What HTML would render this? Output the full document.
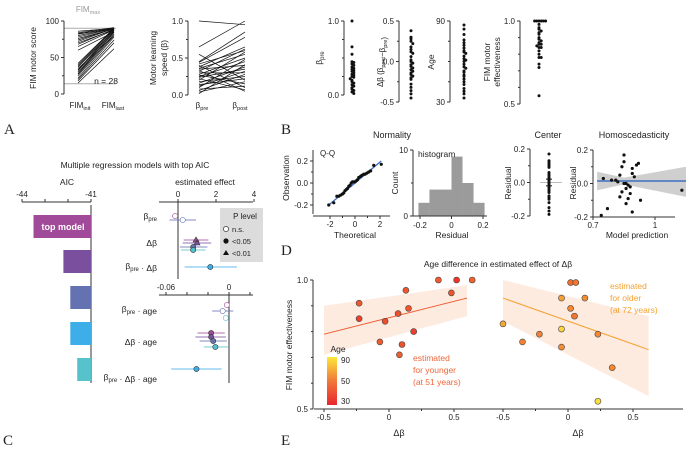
<!DOCTYPE html>
<html><head><meta charset="utf-8">
<style>
html,body{margin:0;padding:0;background:#fff;}
svg{display:block;font-family:"Liberation Sans","DejaVu Sans",sans-serif;}
text{fill:#222;}
</style></head>
<body>
<svg id="fig" width="693" height="451" viewBox="0 0 693 451" xmlns="http://www.w3.org/2000/svg">
<rect x="0" y="0" width="693" height="451" fill="#fff"/>
<g id="labels" font-family="Liberation Serif,serif" font-size="15">
<text x="4" y="134">A</text>
<text x="281" y="134">B</text>
<text x="3" y="445">C</text>
<text x="281" y="255">D</text>
<text x="281" y="445">E</text>
</g>
<g id="g"></g>
</svg>
<script>
// ---------- Panel A data ----------
const fimInit=[15,18,20,22,25,27,28,30,32,33,35,37,38,40,42,60,65,68,70,72,74,76,78,80,82,83,84,86];
const fimLast=[62,70,74,78,80,82,85,84,86,88,80,87,89,90,90,85,88,89,88,90,90,89,90,90,90,90,91,90];
const betaPre=[1.0,0.65,0.55,0.45,0.44,0.42,0.40,0.38,0.36,0.35,0.33,0.32,0.30,0.28,0.27,0.25,0.24,0.22,0.20,0.18,0.16,0.14,0.12,0.10,0.08,0.06,0.04,0.02];
const betaPost=[0.95,1.0,0.20,0.85,0.78,0.60,0.10,0.65,0.55,0.40,0.05,0.62,0.30,0.50,0.15,0.45,0.35,0.07,0.58,0.25,0.38,0.22,0.32,0.48,0.12,0.28,0.18,0.41];
const deltaBeta=[0.38,0.30,0.25,0.22,0.18,0.15,0.12,0.10,0.06,0.02,0.0,-0.02,-0.04,-0.06,-0.08,-0.10,-0.12,-0.14,-0.16,-0.18,-0.20,-0.22,-0.28,-0.32,-0.36,-0.40,-0.45,0.28];
const ageVals=[87,84,80,76,74,72,70,68,67,66,64,62,61,60,58,56,55,53,52,50,49,47,45,43,40,38,36,33];
const fimEff=[1.0,1.0,1.0,1.0,1.0,1.0,0.98,0.96,0.95,0.94,0.93,0.92,0.90,0.89,0.88,0.87,0.86,0.86,0.85,0.84,0.84,0.82,0.80,0.78,0.78,0.74,0.72,0.55];
// ---------- Panel B data ----------
const qqTheo=[-2.1,-1.7,-1.45,-1.3,-1.15,-1.0,-0.9,-0.8,-0.7,-0.6,-0.5,-0.4,-0.3,-0.2,-0.1,0,0.1,0.2,0.3,0.45,0.55,0.7,0.8,0.95,1.1,1.25,1.5,2.1];
const qqObs=[-0.20,-0.18,-0.12,-0.12,-0.11,-0.10,-0.09,-0.07,-0.06,-0.05,-0.03,-0.02,0.0,0.01,0.01,0.01,0.02,0.03,0.05,0.06,0.07,0.08,0.08,0.09,0.10,0.11,0.16,0.17];
const histCounts=[2,4,4,9,5,2];
const histEdges=[-0.21,-0.14,-0.07,0.0,0.07,0.14,0.21];
const resid=[0.17,0.13,0.10,0.09,0.06,0.05,0.04,0.03,0.02,0.02,0.01,0.0,0.0,-0.01,-0.02,-0.03,-0.05,-0.06,-0.08,-0.09,-0.10,-0.12,-0.15,-0.17,-0.19,0.11,-0.04,0.12];
const pred=[0.85,0.85,0.84,0.89,0.89,0.83,0.90,0.75,0.79,0.81,0.82,0.85,0.86,0.87,0.88,0.86,0.84,0.88,0.83,0.87,0.93,0.86,0.77,0.89,0.74,0.91,1.13,0.92];
// ---------- Panel C data ----------
const aicVals=[-43.5,-42.2,-41.9,-41.9,-41.6];
const aicColors=["#a24a9a","#7a4f9e","#6472b2","#3daee8","#55c2cc"];
const effEst=[-0.15,0.25,0.95,1.0,0.8,0.8,1.7];
const effLo=[-0.3,-0.45,0.3,0.25,0.1,0.15,0.35];
const effHi=[0.0,0.95,1.6,1.75,1.55,1.45,3.1];
const effModel=[0,2,0,1,2,4,3];
const effSig=[0,0,2,2,1,1,1];
const ageEst=[-0.002,-0.006,-0.003,-0.017,-0.017,-0.015,-0.013,-0.031];
const ageLo=[-0.003,-0.016,-0.005,-0.030,-0.032,-0.028,-0.024,-0.055];
const ageHi=[-0.001,0.004,-0.001,-0.004,-0.003,-0.002,-0.001,-0.007];
const ageModel=[0,2,4,0,1,2,4,3];
// ---------- Panel E data ----------
const youngX=[-0.23,-0.23,-0.03,-0.07,0.08,0.10,0.07,0.13,0.15,0.19,0.38,0.48,0.52,0.64];
const youngY=[0.91,0.85,0.84,0.76,0.71,0.75,0.87,0.96,0.89,0.80,1.0,0.95,1.0,1.0];
const youngAge=[45,38,42,46,47,43,42,44,44,38,46,44,34,48];
const oldX=[-0.5,-0.35,-0.22,-0.05,-0.05,-0.05,0.02,0.02,0.06,0.05,0.13,0.23,0.34,0.23];
const oldY=[0.83,0.76,0.79,0.81,0.93,0.74,0.89,0.99,0.99,0.86,0.93,0.79,0.66,0.53];
const oldAge=[70,58,58,85,68,62,60,52,55,55,62,60,60,88];
const youngLine=[-0.5,0.79,0.6,0.93];
const oldLine=[-0.5,0.93,0.62,0.73];

const NS="http://www.w3.org/2000/svg";
const G=document.getElementById('g');
function el(tag,attrs,parent,txt){const e=document.createElementNS(NS,tag);for(const k in attrs)e.setAttribute(k,attrs[k]);if(txt!==undefined)e.textContent=txt;(parent||G).appendChild(e);return e;}
function lin(d0,d1,p0,p1){return v=>p0+(v-d0)*(p1-p0)/(d1-d0);}
function T(x,y,s,opt,par){opt=opt||{};const a={x:x,y:y,'font-size':opt.fs||8,'text-anchor':opt.a||'middle'};if(opt.rot)a.transform='rotate(-90 '+x+' '+y+')';if(opt.fill)a.style='fill:'+opt.fill;const t=el('text',a,par);
 const parts=s.split(/(_\{[^}]*\})/);parts.forEach(p=>{if(p.startsWith('_{')){el('tspan',{'font-size':(opt.fs||8)*0.7,dy:2},t,p.slice(2,-1));el('tspan',{dy:-2},t,'');}else if(p)el('tspan',{},t,p);});return t;}
function L(x1,y1,x2,y2,c,w,par){return el('line',{x1:x1,y1:y1,x2:x2,y2:y2,stroke:c||'#333','stroke-width':w||1},par);}
function yaxis(x,y0,y1,ticks,fy,labels,par,minor){L(x,y0,x,y1,'#333',1,par);ticks.forEach((t,i)=>{const y=fy(t);L(x-3,y,x,y,'#333',1,par);if(labels[i]!=='')T(x-5,y+3,labels[i],{a:'end'},par);});(minor||[]).forEach(t=>L(x-2,fy(t),x,fy(t),'#333',1,par));}
function xaxis(y,x0,x1,ticks,fx,labels,par,up){L(x0,y,x1,y,'#333',1,par);ticks.forEach((t,i)=>{const x=fx(t);L(x,y,x,y+(up?-3:3),'#333',1,par);if(labels[i]!=='')T(x,up?y-5:y+11,labels[i],{},par);});}
function dot(cx,cy,r,fill,par,stroke){return el('circle',{cx:cx,cy:cy,r:r,fill:fill,stroke:stroke||'none','stroke-width':0.6},par);}
function swarm(vals,x0,fy,par,step){const seen={};vals.forEach(v=>{const k=Math.round(fy(v)/2.5);seen[k]=(seen[k]||0)+1;const n=seen[k]-1;const off=n===0?0:(n%2?1:-1)*Math.ceil(n/2)*step;const d=dot(x0+off,fy(v),1.5,'#111',par);});}

// ===== Panel A =====
const pA=el('g',{},G);
let fy=lin(0,100,94,21);
L(64,fy(90),116,fy(90),'#aaa',1,pA);L(64,fy(14),116,fy(14),'#aaa',1,pA);
T(88,12,'FIM_{max}',{fill:'#999'},pA);
yaxis(64,21,94,[0,50,100],fy,['0','50','100'],pA,[25,75]);
T(36,58,'FIM motor score',{rot:1,fs:8.5},pA);
fimInit.forEach((v,i)=>{const l=L(78,fy(v),114,fy(fimLast[i]),'#111',0.7,pA);});
T(106,84,'n = 28',{fs:8.5},pA);
T(80,108,'FIM_{init}',{},pA);T(113,108,'FIM_{last}',{},pA);
fy=lin(0,1,95,21);
yaxis(188,21,95,[0,0.5,1],fy,['0.0','0.5','1.0'],pA,[0.25,0.75]);
T(156,58,'Motor learning',{rot:1,fs:8.5},pA);T(167,58,'speed (β)',{rot:1,fs:8.5},pA);
betaPre.forEach((v,i)=>{const l=L(199,fy(v),245,fy(betaPost[i]),'#111',0.7,pA);});
T(202,108,'β_{pre}',{},pA);T(240,108,'β_{post}',{},pA);
yaxis(344,21,95,[0,1],fy,['0.0','1.0'],pA,[0.25,0.5,0.75]);
T(322,58,'β_{pre}',{rot:1,fs:8.5},pA);
swarm(betaPre,352,fy,pA,1.8);
let fd=lin(-0.5,0.5,102,21);
yaxis(399,21,102,[-0.5,0,0.5],fd,['-0.5','0.0','0.5'],pA,[-0.25,0.25]);
T(383,62,'Δβ (β_{post}−β_{pre})',{rot:1,fs:8},pA);
swarm(deltaBeta,411,fd,pA,1.8);
let fa=lin(30,90,102,21);
yaxis(450,21,102,[30,90],fa,['30','90'],pA,[45,60,75]);
T(434,62,'Age',{rot:1,fs:8.5},pA);
swarm(ageVals,464,fa,pA,1.8);
let fe=lin(0.5,1,104,21);
yaxis(520,21,104,[0.5,1],fe,['0.5','1.0'],pA,[0.6,0.7,0.8,0.9]);
T(490,62,'FIM motor',{rot:1,fs:8.5},pA);T(500,62,'effectiveness',{rot:1,fs:8.5},pA);
swarm(fimEff,539,fe,pA,2.2);

// ===== Panel B =====
const pB=el('g',{},G);
T(392,138,'Normality',{fs:9},pB);T(548,138,'Center',{fs:9},pB);T(634,138,'Homoscedasticity',{fs:9},pB);
let qx=lin(0,1,355,367.5), qy=lin(0,1,183,73);
yaxis(313,150,214,[-0.2,0,0.2],qy,['-0.2','0.0','0.2'],pB,[-0.1,0.1]);
xaxis(216,313,390,[-2,0,2],qx,['-2','0','2'],pB);
[-1,1].forEach(t=>L(qx(t),216,qx(t),218,'#333',1,pB));
T(289,178,'Observation',{rot:1,fs:8.5},pB);T(355,238,'Theoretical',{fs:8.5},pB);
T(320,156,'Q-Q',{a:'start'},pB);
L(qx(-2.1),qy(-0.2),qx(2.1),qy(0.2),'#3d6fc0',1.3,pB);
qqTheo.forEach((t,i)=>{const d=dot(qx(t),qy(qqObs[i]),1.6,'#111',pB);});
let hx=lin(-0.2,0.2,420,483), hy=lin(0,10,216,150);
histCounts.forEach((c,i)=>{const r=el('rect',{x:hx(histEdges[i]),y:hy(c),width:hx(histEdges[i+1])-hx(histEdges[i]),height:hy(0)-hy(c),fill:'#9b9b9b'},pB);});
yaxis(413,150,216,[0,10],hy,['0','10'],pB,[5]);
L(413,216,487,216,'#333',1,pB);
[-0.2,0,0.2].forEach((t,i)=>{L(hx(t),216,hx(t),219,'#333',1,pB);T(hx(t),228,['-0.2','0','0.2'][i],{},pB);});
T(398,183,'Count',{rot:1,fs:8.5},pB);T(452,238,'Residual',{fs:8.5},pB);
T(418,157,'histogram',{a:'start',fs:8.5},pB);
let cy=lin(-0.2,0.2,216,149);
L(540,cy(0),562,cy(0),'#bbb',1,pB);
yaxis(530,149,216,[-0.2,0,0.2],cy,['-0.2','0.0','0.2'],pB,[-0.1,0.1]);
T(511,183,'Residual',{rot:1,fs:8.5},pB);
swarm(resid,549,cy,pB,0);
L(549,cy(0.02),549,cy(-0.02),'#111',1,pB);L(546,cy(0.02),552,cy(0.02),'#111',1,pB);L(546,cy(-0.02),552,cy(-0.02),'#111',1,pB);
let hpx=lin(0.7,1,593,655), hpy=lin(-0.2,0.2,217,150);
el('path',{d:`M${hpx(0.72)},${hpy(0.07)} L${hpx(0.85)},${hpy(0.035)} L${hpx(1.15)},${hpy(0.1)} L${hpx(1.15)},${hpy(-0.08)} L${hpx(0.85)},${hpy(-0.005)} L${hpx(0.72)},${hpy(-0.04)} Z`,fill:'#cfcfcf'},pB);
L(hpx(0.72),hpy(0.015),hpx(1.15),hpy(0.015),'#3d6fc0',1.5,pB);
yaxis(593,150,217,[-0.2,0,0.2],hpy,['-0.2','0.0','0.2'],pB,[-0.1,0.1]);
L(593,217,675,217,'#333',1,pB);
[0.7,1].forEach((t,i)=>{L(hpx(t),217,hpx(t),220,'#333',1,pB);T(hpx(t),228,['0.7','1'][i],{},pB);});
T(576,183,'Residual',{rot:1,fs:8.5},pB);T(637,238,'Model prediction',{fs:8.5},pB);
pred.forEach((p,i)=>{const d=dot(hpx(p),hpy(resid[i]),1.6,'#111',pB);});

// ===== Panel C =====
const pC=el('g',{},G);
T(135,168,'Multiple regression models with top AIC',{fs:8.5},pC);
T(67,185,'AIC',{fs:8.5},pC);T(205,185,'estimated effect',{fs:8.5},pC);
let ax=lin(-44,-41,22,91);
L(22,202,91,202,'#333',1,pC);[-44,-43,-42,-41].forEach(t=>L(ax(t),202,ax(t),199,'#333',1,pC));
T(22,197,'-44',{},pC);T(91,197,'-41',{},pC);
L(91,205,91,383,'#333',1,pC);
const barY=[215,250,286,322,358];
aicVals.forEach((v,i)=>{const r=el('rect',{x:ax(v),y:barY[i],width:91-ax(v),height:23,fill:aicColors[i]},pC);});
el('text',{x:63,y:230,'font-size':9,'text-anchor':'middle',style:'fill:#fff;font-weight:bold'},pC,'top model');
let ex=lin(0,2,178,216);
xaxis(202,159,253,[0,2,4],ex,['0','2','4'],pC,true);
L(ex(0),202,ex(0),279,'#333',1,pC);
const effY=[216,220,240,243,247,250,267];
[[219,'β_{pre}'],[246,'Δβ'],[269,'β_{pre} · Δβ']].forEach(a=>T(157,a[0],a[1],{a:'end',fs:8.5},pC));
function mark(x,y,sig,col,par){if(sig===2){return el('path',{d:`M${x},${y-3} L${x+3},${y+2} L${x-3},${y+2} Z`,fill:col,stroke:'#333','stroke-width':0.6},par);}return dot(x,y,2.6,sig===0?'#fff':col,par,sig===0?col:'#333');}
effEst.forEach((v,i)=>{const c=aicColors[effModel[i]];L(ex(effLo[i]),effY[i],ex(effHi[i]),effY[i],c,1,pC).setAttribute('opacity',0.8);const m=mark(ex(v),effY[i],effSig[i],c,pC);});
const lg=el('g',{},pC);
el('rect',{x:220,y:208,width:43,height:54,fill:'#dcdcdc'},lg);
T(245,219,'P level',{fs:8},lg);
dot(226,229,2.6,'#fff',lg,'#111');T(232,232,'n.s.',{a:'start',fs:7.5},lg);
dot(226,241,2.6,'#111',lg);T(232,244,'<0.05',{a:'start',fs:7.5},lg);
el('path',{d:'M226,250 L229,255 L223,255 Z',fill:'#111'},lg);T(232,256,'<0.01',{a:'start',fs:7.5},lg);
let gx=lin(-0.06,0,166,229);
xaxis(295,159,253,[-0.06,0],gx,['-0.06','0'],pC,true);
[-0.04,-0.02,0.02].forEach(t=>L(gx(t),295,gx(t),292,'#333',1,pC));
L(gx(0),295,gx(0),383,'#333',1,pC);
const ageY=[305,311,318,333,337,341,347,369];
[[312,'β_{pre} · age'],[345,'Δβ · age'],[380,'β_{pre} · Δβ · age']].forEach(a=>T(157,a[0],a[1],{a:'end',fs:8.5},pC));
ageEst.forEach((v,i)=>{const c=aicColors[ageModel[i]];L(gx(ageLo[i]),ageY[i],gx(ageHi[i]),ageY[i],c,1,pC).setAttribute('opacity',0.8);const m=mark(gx(v),ageY[i],i<3?0:1,c,pC);});

// ===== Panel E =====
const pE=el('g',{},G);
T(498,267,'Age difference in estimated effect of Δβ',{fs:8.5},pE);
function ageCol(a){const t=Math.max(0,Math.min(1,(a-30)/60));const r=Math.round(235+t*15),g=Math.round(40+t*190),b=Math.round(40+t*20);return `rgb(${r},${g},${b})`;}
let ey=lin(0.5,1,409,280);
function scatter(xs,ys,ages,x0,line,bandTop,bandBot,lineCol,name){
 const sx=lin(-0.5,0.5,x0,x0+130);
 el('path',{d:`M${sx(line[0])},${ey(line[1]+bandTop[0])} L${sx(line[2])},${ey(line[3]+bandTop[1])} L${sx(line[2])},${ey(line[3]-bandBot[1])} L${sx(line[0])},${ey(line[1]-bandBot[0])} Z`,fill:'#fdebe0'},pE);
 L(sx(line[0]),ey(line[1]),sx(line[2]),ey(line[3]),lineCol,1,pE);
 L(x0-10,409,x0+(x0<400?183:180),409,'#333',1,pE);
 [-0.5,0,0.5].forEach((t,i)=>{L(sx(t),409,sx(t),412,'#333',1,pE);T(sx(t),420,['-0.5','0','0.5'][i],{},pE);});
 [-0.25,0.25].forEach(t=>L(sx(t),409,sx(t),411,'#333',1,pE));
 T(sx(0)+10,436,'Δβ',{fs:9},pE);
 xs.forEach((v,i)=>{const d=dot(sx(v),ey(ys[i]),3,ageCol(ages[i]),pE,'#444');});
}
scatter(youngX,youngY,youngAge,324,youngLine,[0.11,0.05],[0.08,0.07],'#f05a30','young-point');
scatter(oldX,oldY,oldAge,503,oldLine,[0.07,0.13],[0.09,0.18],'#f5a030','old-point');
yaxis(313,280,409,[0.5,1],ey,['0.5','1.0'],pE,[0.6,0.7,0.8,0.9]);
T(292,345,'FIM motor effectiveness',{rot:1,fs:8.5},pE);
const defs=el('defs',{},pE);const gr=el('linearGradient',{id:'cb',x1:0,y1:1,x2:0,y2:0},defs);
el('stop',{offset:0,'stop-color':'#e8252e'},gr);el('stop',{offset:0.5,'stop-color':'#f07838'},gr);el('stop',{offset:1,'stop-color':'#fde83a'},gr);
const cb=el('rect',{x:327,y:357,width:10,height:48,fill:'url(#cb)'},pE);
T(338,352,'Age',{fs:8.5},pE);T(341,363,'90',{a:'start'},pE);T(341,384,'50',{a:'start'},pE);T(341,404,'30',{a:'start'},pE);
[['estimated',361],['for younger',373],['(at 51 years)',385]].forEach(a=>T(413,a[1],a[0],{a:'start',fs:8.5,fill:'#f0663a'},pE));
[['estimated',289],['for older',301],['(at 72 years)',313]].forEach(a=>T(610,a[1],a[0],{a:'start',fs:8.5,fill:'#f5a030'},pE));
</script>
</body></html>
